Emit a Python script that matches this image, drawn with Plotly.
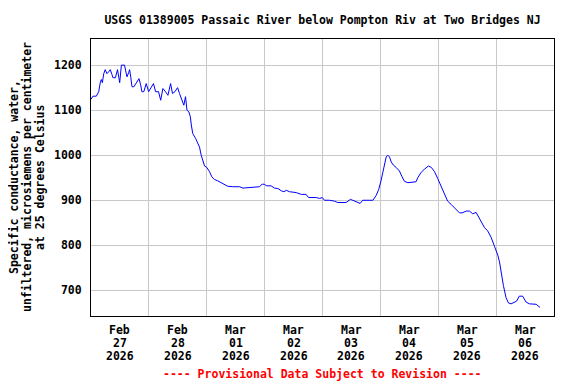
import pandas as pd
import plotly.graph_objects as go

# Hours since 2026-02-27 00:00 and specific conductance readings (uS/cm)
hours = [0.0, 0.8, 2.2, 3.2, 3.9, 4.3, 4.7, 5.3, 5.9, 6.6, 7.3, 8.0, 8.7, 9.1, 10.1, 11.0,
         11.9, 12.6, 13.9, 14.9, 15.6, 16.0, 16.5, 17.0, 17.8, 18.8, 19.9, 20.6, 21.1, 21.9,
         22.9, 23.9, 25.0, 25.9, 26.8, 28.0, 28.9, 29.8, 30.9, 31.9, 33.0, 33.8, 34.8, 35.9,
         36.7, 37.8, 38.5, 39.2, 39.8, 40.6, 41.2, 41.6, 42.2, 43.4, 44.3, 45.0, 45.7, 46.4,
         47.1, 48.0, 49.2, 50.1, 51.2, 52.6, 54.0, 55.4, 56.7, 58.8, 61.6, 63.0,
         65.7, 67.8, 69.9, 71.0, 72.0, 72.9, 74.7, 76.1, 77.5, 78.9, 80.0, 81.0, 82.3, 85.1,
         87.2, 89.2, 90.2, 93.4, 94.8, 95.9, 96.8, 98.9, 101.0, 102.3, 104.4, 105.8, 107.6,
         109.3, 110.6, 111.6, 112.7, 116.9, 118.3, 119.3, 120.3, 121.0, 121.7, 122.4, 123.1,
         123.8, 124.5, 125.4, 126.5, 127.9,
         129.0, 130.0, 131.4, 133.4, 134.8, 135.5, 136.9, 138.3, 139.9, 141.1, 142.4, 143.8,
         145.2, 146.6, 147.9, 149.3, 150.4, 151.4, 152.8, 153.9, 155.6, 156.9, 158.3, 159.7,
         160.7, 161.8, 163.2, 164.5, 165.9, 167.3, 168.7, 169.4, 170.1, 171.0, 172.1, 173.1,
         174.2, 175.6, 176.5, 177.6, 179.0, 180.4, 181.8, 184.6, 186.2]
conductance = [1124, 1131, 1131, 1141, 1163, 1168, 1161, 1181, 1190, 1181, 1185, 1190, 1179, 1172, 1172, 1190,
               1161, 1200, 1200, 1174, 1183, 1190, 1173, 1152, 1152, 1161, 1170, 1156, 1141, 1141,
               1159, 1141, 1152, 1159, 1141, 1141, 1122, 1148, 1141, 1133, 1159, 1137, 1141, 1150,
               1137, 1118, 1111, 1130, 1100, 1096, 1085, 1067, 1048, 1037, 1026, 1018, 1000, 985,
               976, 973, 963, 952, 946, 943, 939, 935, 931, 930, 930, 927,
               928, 930, 930, 936, 935, 932, 932, 927, 926, 921, 919, 922, 919, 917,
               913, 913, 906, 906, 904, 906, 900, 900, 898, 895, 896, 895, 902,
               898, 895, 893, 900, 900, 911, 924, 944, 963, 982, 996, 1000,
               996, 985, 978, 973, 965,
               952, 942, 939, 941, 941, 950, 962, 969, 976, 973, 964, 948,
               930, 911, 898, 891, 885, 878, 872, 872, 876, 876, 870, 873,
               863, 853, 839, 832, 818, 798, 778, 763, 737, 711, 684, 672,
               670, 673, 676, 687, 687, 674, 670, 669, 662]

month_labels = ["Feb", "Feb", "Mar", "Mar", "Mar", "Mar", "Mar", "Mar"]
day_numbers = ["27", "28", "01", "02", "03", "04", "05", "06"]
year_labels = ["2026"] * 8
y_title_lines = ["Specific conductance, water,",
                 "unfiltered, microsiemens per centimeter",
                 "at 25 degrees Celsius"]
days = pd.date_range("2026-02-27", periods=8, freq="D")
y_ticks = [700, 800, 900, 1000, 1100, 1200]

times = pd.Timestamp("2026-02-27") + pd.to_timedelta(hours, unit="h")

FONT = "DejaVu Sans Mono"
# The page has an 8px body margin; the figure is sized so that it fits in the window.
W, H = 568, 376
PLOT_W, PLOT_H = 463, 277
LEFT = 91  # plot-area left edge in page pixels

fig = go.Figure()
fig.add_trace(go.Scatter(x=times, y=conductance, mode="lines",
                         line=dict(color="#0000ff", width=1), showlegend=False))

annotations = [
    dict(text="---- Provisional Data Subject to Revision ----",
         x=0.5, y=-(374 - 316) / PLOT_H, xref="paper", yref="paper",
         xanchor="center", yanchor="middle", showarrow=False,
         font=dict(family=FONT, size=11.5, color="#ff0000", weight="bold")),
]
for line, xpix in zip(y_title_lines, [13.5, 26.5, 39.5]):
    annotations.append(dict(text=line, x=(xpix - LEFT) / PLOT_W, y=0.5,
                            xref="paper", yref="paper", textangle=-90,
                            xanchor="center", yanchor="middle", showarrow=False,
                            font=dict(family=FONT, size=11.5, color="black", weight="bold")))
noon = days + pd.Timedelta(hours=12)
for labels, offset in [(month_labels, 14), (day_numbers, 27), (year_labels, 40)]:
    for xv, lab in zip(noon, labels):
        annotations.append(dict(text=lab, x=xv, xref="x", y=-offset / PLOT_H, yref="paper",
                                xanchor="center", yanchor="middle", showarrow=False,
                                font=dict(family=FONT, size=11.5, color="black", weight="bold")))

fig.update_layout(
    width=W, height=H,
    margin=dict(l=83, r=22, t=31, b=68),
    paper_bgcolor="white", plot_bgcolor="white",
    font=dict(family=FONT, size=11.5, color="black", weight="bold"),
    title=dict(text="USGS 01389005 Passaic River below Pompton Riv at Two Bridges NJ",
               x=0.5, xref="paper", y=1 - 12 / H, yref="container",
               xanchor="center", yanchor="middle",
               font=dict(family=FONT, size=11.5, color="black", weight="bold")),
    xaxis=dict(
        range=[pd.Timestamp("2026-02-27"), pd.Timestamp("2026-03-07")],
        tickmode="array", tickvals=noon, ticktext=[""] * 8,
        showgrid=False, ticks="", zeroline=False, automargin=False,
        showline=True, linecolor="black", linewidth=1, mirror=True,
        minor=dict(tickmode="array", tickvals=days[1:], showgrid=True,
                   gridcolor="#c8c8c8", gridwidth=1, ticks=""),
    ),
    yaxis=dict(
        range=[643, 1258], tickmode="array", tickvals=y_ticks,
        showgrid=True, gridcolor="#c8c8c8", gridwidth=1, ticks="", zeroline=False,
        showline=True, linecolor="black", linewidth=1, mirror=True, automargin=False,
        ticklabelstandoff=6,
        tickfont=dict(family=FONT, size=11.5, color="black", weight="bold"),
    ),
    annotations=annotations,
)

fig.write_html("out.html")
